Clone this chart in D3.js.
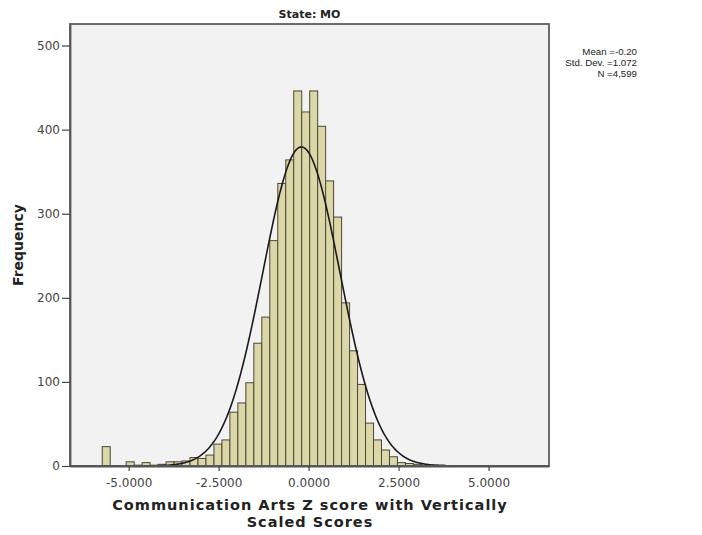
<!DOCTYPE html>
<html><head><meta charset="utf-8">
<script src="https://cdn.jsdelivr.net/npm/d3@7"></script>
<style>
html,body{margin:0;padding:0;background:#fff;}
svg{display:block;font-family:"DejaVu Sans",Verdana,sans-serif;}
</style></head>
<body><svg id="c" width="702" height="535"></svg>
<script>
// Histogram data (frequency per bin), bins start at binStart with width binWidth
const binStart = -5.734;
const binWidth = 0.2217;
const counts = [23,0,0,5,1,4,1,2,5,5,6,10,9,13,26,31,64,75,99,146,177,268,336,364,446,421,446,404,339,296,194,137,97,51,31,19,11,4,3,2,1,1,1];
const xTicks = [-5,-2.5,0,2.5,5];
const yTicks = [0,100,200,300,400,500];
const stats = {mean:-0.20, sd:1.072, n:4599};
const statLines = ["Mean =-0.20","Std. Dev. =1.072","N =4,599"];
const title = "State: MO";
const xTitle = ["Communication Arts Z score with Vertically","Scaled Scores"];
const yTitle = "Frequency";

const svg = d3.select("#c");
const L=70,R=549,T=24,B=466;
const x = d3.scaleLinear().domain([-6.63,6.68]).range([L,R]);
const y = d3.scaleLinear().domain([0,525.6]).range([B,T]);

svg.append("rect").attr("x",L).attr("y",T).attr("width",R-L).attr("height",B-T)
  .attr("fill","#f2f2f2");

// bars
svg.append("g").selectAll("rect").data(counts).join("rect")
  .attr("x",(d,i)=>x(binStart+i*binWidth))
  .attr("width",(d,i)=>x(binStart+(i+1)*binWidth)-x(binStart+i*binWidth))
  .attr("y",d=>y(d))
  .attr("height",d=>y(0)-y(d))
  .attr("fill","#dcd7a7")
  .attr("stroke","#4a4738")
  .attr("stroke-width",1)
  .attr("display",d=>d>0?null:"none");

// normal curve
const scale = stats.n*binWidth/(stats.sd*Math.sqrt(2*Math.PI));
const xs = d3.range(0,401).map(i=>x.domain()[0]+i*(x.domain()[1]-x.domain()[0])/400);
const line = d3.line().x(d=>x(d)).y(d=>y(scale*Math.exp(-0.5*Math.pow((d-stats.mean)/stats.sd,2))));
svg.append("path").datum(xs).attr("d",line).attr("fill","none").attr("stroke","#1a1a1a").attr("stroke-width",1.6);

// frame
svg.append("rect").attr("x",L).attr("y",T).attr("width",R-L).attr("height",B-T)
  .attr("fill","none").attr("stroke","#5e5e5e").attr("stroke-width",1.8);

// axes
const gx = svg.append("g").attr("transform",`translate(0,${B})`)
  .call(d3.axisBottom(x).tickValues(xTicks).tickFormat(d3.format(".4f")).tickSize(5).tickSizeOuter(0).tickPadding(7.5));
const gy = svg.append("g").attr("transform",`translate(${L},0)`)
  .call(d3.axisLeft(y).tickValues(yTicks).tickSize(8).tickSizeOuter(0).tickPadding(2));
[gx,gy].forEach(g=>{
  g.select(".domain").attr("stroke","#555").attr("stroke-width",1.8);
  g.selectAll(".tick line").attr("stroke","#444").attr("stroke-width",1.2);
  g.selectAll(".tick text").attr("fill","#444").attr("font-size","12px").attr("font-family","DejaVu Sans, sans-serif");
});
gx.selectAll(".tick text").text(d=>d3.format(".4f")(d).replace("−","-"));

// titles
svg.append("text").attr("x",(L+R)/2).attr("y",17.5).attr("text-anchor","middle")
  .attr("font-size","11px").attr("font-weight","bold").attr("fill","#222").text(title);
svg.append("text").attr("transform","translate(22.5,245) rotate(-90)").attr("text-anchor","middle")
  .attr("font-size","14px").attr("font-weight","bold").attr("fill","#222").text(yTitle);
xTitle.forEach((t,i)=>svg.append("text").attr("text-anchor","middle")
  .attr("x",(L+R)/2+0.5).attr("y",510+i*17)
  .attr("font-size","14.5px").attr("letter-spacing","1px").attr("font-weight","bold").attr("fill","#222").text(t));
statLines.forEach((t,i)=>svg.append("text").attr("x",637).attr("y",54.5+i*11).attr("text-anchor","end")
  .attr("font-family","'Liberation Sans', Arial, sans-serif")
  .attr("font-size","9.7px").attr("fill","#222").text(t));
</script></body></html>
